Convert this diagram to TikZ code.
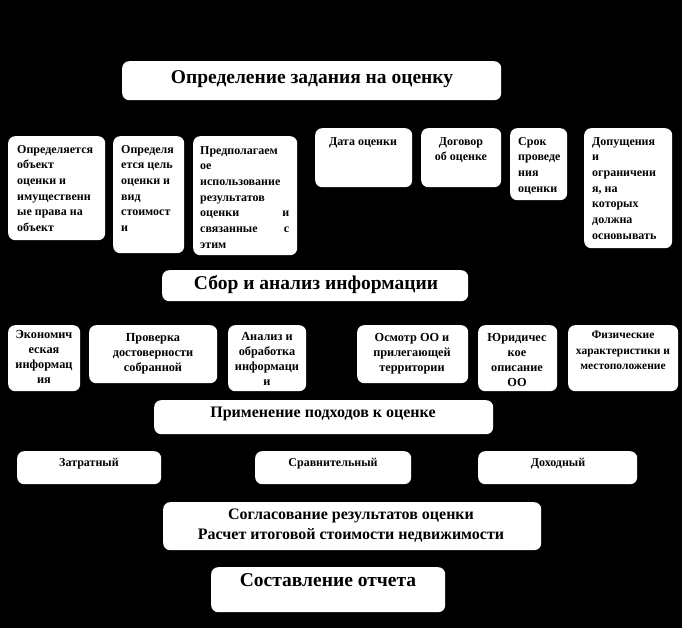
\documentclass[tikz,border=0pt]{standalone}
\usepackage{fontspec}
\setmainfont{Liberation Serif}
\begin{document}
\begin{tikzpicture}[x=1pt,y=-1pt,
  box/.style={fill=white, draw=none, rounded corners=7pt, inner sep=0pt, anchor=north west},
  txt/.style={text=black, inner sep=0pt, font=\bfseries\fontsize{12}{15.7}\selectfont},
  txtb/.style={text=black, inner sep=0pt, font=\bfseries\fontsize{12.3}{15}\selectfont, align=center},
  big/.style={text=black, inner sep=0pt, font=\bfseries\fontsize{19.5}{23}\selectfont, align=center},
  mid/.style={text=black, inner sep=0pt, font=\bfseries\fontsize{16}{20}\selectfont, align=center}]
\useasboundingbox (0,0) rectangle (682,628);
\fill[black] (0,0) rectangle (682,628);
% title
\node[box, minimum width=379pt, minimum height=39pt] (title) at (122,61) {};
\node[big] (titlet) at (312,79) {Определение задания на оценку};
% row 1
\node[box, minimum width=97pt, minimum height=104pt] (b1) at (8,136) {};
\node[txt, anchor=north west, align=left] (b1t) at (17,145) {Определяется\\объект\\оценки и\\имущественн\\ые права на\\объект};
\node[box, minimum width=71pt, minimum height=117pt] (b2) at (113,136) {};
\node[txt, anchor=north west, align=left] (b2t) at (121,145) {Определя\\ется цель\\оценки и\\вид\\стоимост\\и};
\node[box, minimum width=104pt, minimum height=119pt] (b3) at (193,136) {};
\node[txt, anchor=north west, align=left, text width=89pt] (b3t) at (200,146) {Предполагаем\\ое\\использование\\результатов\\оценки\hfill и\\связанные\hfill с\\этим};
\node[box, minimum width=97pt, minimum height=59pt] (b4) at (315,128) {};
\node[txt, anchor=north] (b4t) at (363,137) {Дата оценки};
\node[box, minimum width=80pt, minimum height=59pt] (b5) at (421,128) {};
\node[txt, anchor=north, align=center] (b5t) at (461,137) {Договор\\об оценке};
\node[box, minimum width=57pt, minimum height=72pt] (b6) at (510,128) {};
\node[txt, anchor=north west, align=left] (b6t) at (518,137) {Срок\\проведе\\ния\\оценки};
\node[box, minimum width=88pt, minimum height=120pt] (b7) at (584,128) {};
\node[txt, anchor=north west, align=left] (b7t) at (592,137) {Допущения\\и\\ограничени\\я, на\\которых\\должна\\основывать};
% collect
\node[box, minimum width=306pt, minimum height=31pt] (sbor) at (162,270) {};
\node[big] (sbort) at (316,285) {Сбор и анализ информации};
% row 2
\node[box, minimum width=72pt, minimum height=66pt] (r1) at (8,325) {};
\node[txtb, anchor=north] (r1t) at (44,330) {Экономич\\еская\\информац\\ия};
\node[box, minimum width=128pt, minimum height=58pt] (r2) at (89,325) {};
\node[txtb, anchor=north] (r2t) at (153,333) {Проверка\\достоверности\\собранной};
\node[box, minimum width=78pt, minimum height=66pt] (r3) at (228,325) {};
\node[txtb, anchor=north] (r3t) at (267,332) {Анализ и\\обработка\\информаци\\и};
\node[box, minimum width=111pt, minimum height=58pt] (r4) at (357,325) {};
\node[txtb, anchor=north] (r4t) at (412,333) {Осмотр ОО и\\прилегающей\\территории};
\node[box, minimum width=79pt, minimum height=66pt] (r5) at (478,325) {};
\node[txtb, anchor=north] (r5t) at (517,333) {Юридичес\\кое\\описание\\ОО};
\node[box, minimum width=110pt, minimum height=66pt] (r6) at (568,325) {};
\node[txtb, anchor=north, font=\bfseries\fontsize{11.5}{15.5}\selectfont] (r6t) at (623,331) {Физические\\характеристики и\\местоположение};
% approaches
\node[box, minimum width=339pt, minimum height=34pt] (prim) at (154,400) {};
\node[mid] (primt) at (323,414) {Применение подходов к оценке};
\node[box, minimum width=144pt, minimum height=33pt] (a1) at (17,451) {};
\node[txt] (a1t) at (89,464) {Затратный};
\node[box, minimum width=156pt, minimum height=33pt] (a2) at (255,451) {};
\node[txt] (a2t) at (333,464) {Сравнительный};
\node[box, minimum width=159pt, minimum height=33pt] (a3) at (478,451) {};
\node[txt] (a3t) at (558,464) {Доходный};
% reconciliation
\node[box, minimum width=378pt, minimum height=48pt] (sogl) at (163,502) {};
\node[mid] (soglt) at (351,526) {Согласование результатов оценки\\Расчет итоговой стоимости недвижимости};
\node[box, minimum width=234pt, minimum height=45pt] (otch) at (211,567) {};
\node[big] (otcht) at (328,580) {Составление отчета};
\end{tikzpicture}
\end{document}
